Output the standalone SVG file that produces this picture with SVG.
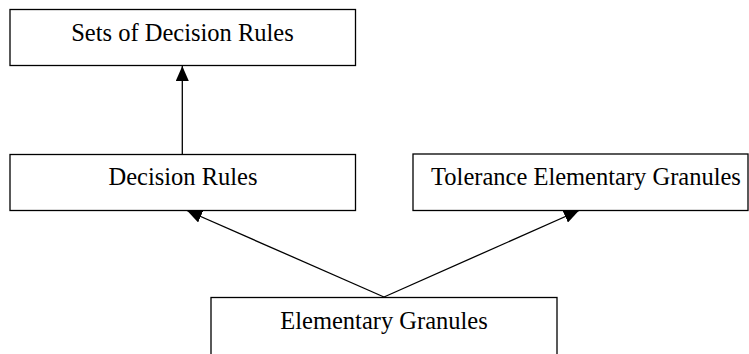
<svg xmlns="http://www.w3.org/2000/svg" width="749" height="354" viewBox="0 0 749 354">
<style>
.box{fill:#fff;stroke:#000;stroke-width:1.3}
.lbl{font-family:"Liberation Serif","Times New Roman",serif;font-size:24.5px;fill:#000;text-anchor:middle}
.edge{stroke:#000;stroke-width:1.3;fill:none;marker-end:url(#arr)}
</style>
<defs>
<marker id="arr" viewBox="0 0 15 13" refX="15" refY="6.5" markerWidth="15" markerHeight="13" markerUnits="userSpaceOnUse" orient="auto">
<path d="M0,0 L15,6.5 L0,13 Z" fill="#000"/>
</marker>
</defs>
<rect width="749" height="354" fill="#fff"/>
<g id="connectors">
<line class="edge" x1="182.3" y1="154" x2="182.3" y2="66"/>
<line class="edge" x1="384" y1="297" x2="187" y2="210.5"/>
<line class="edge" x1="384" y1="297" x2="579" y2="210.5"/>
</g>
<g id="sets-of-decision-rules">
<rect class="box" x="10" y="9.5" width="345.5" height="56"/>
<text class="lbl" x="182.5" y="41">Sets of Decision Rules</text>
</g>
<g id="decision-rules">
<rect class="box" x="10" y="154.5" width="345.5" height="56"/>
<text class="lbl" x="183" y="185">Decision Rules</text>
</g>
<g id="tolerance-elementary-granules">
<rect class="box" x="413" y="154" width="335" height="56.5"/>
<text class="lbl" x="586" y="185">Tolerance Elementary Granules</text>
</g>
<g id="elementary-granules">
<rect class="box" x="211" y="297.5" width="346" height="70"/>
<text class="lbl" x="384" y="328.5">Elementary Granules</text>
</g>
</svg>
